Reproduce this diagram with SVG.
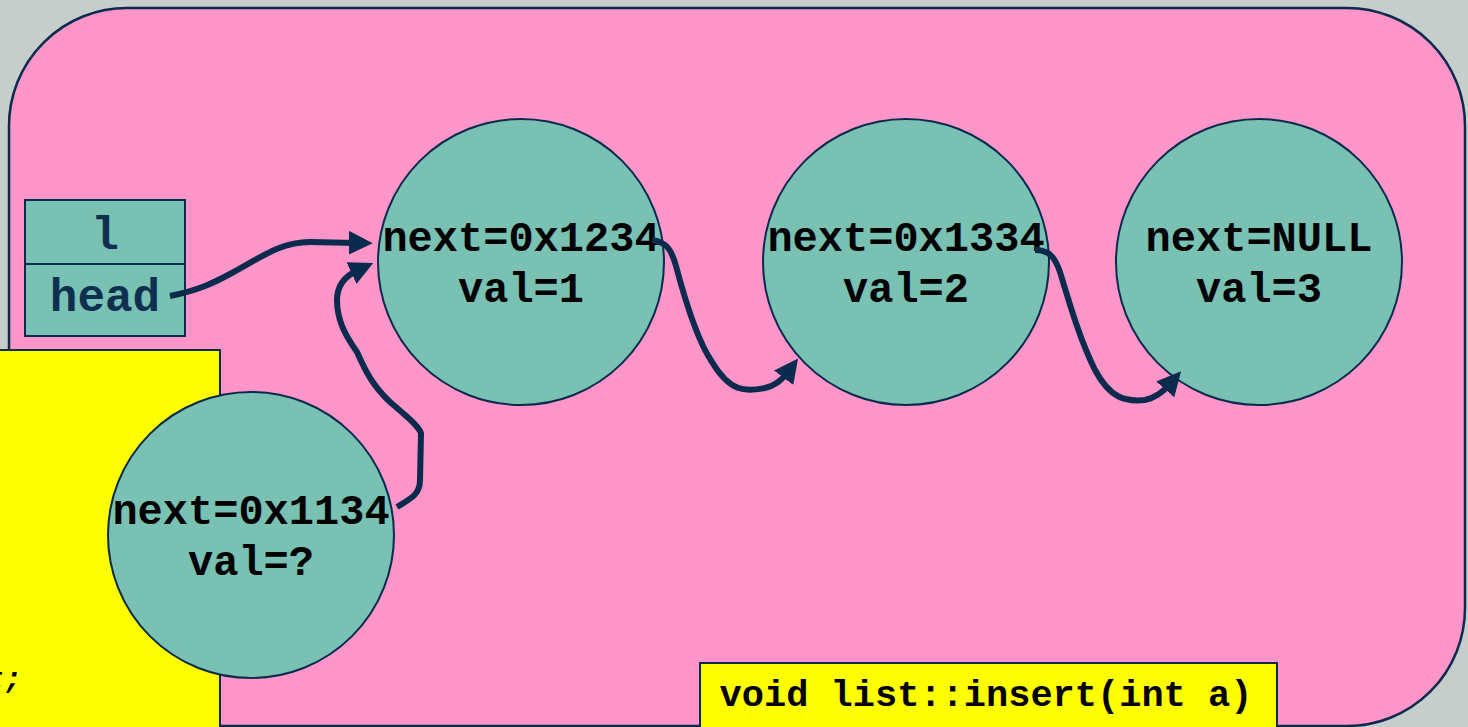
<svg xmlns="http://www.w3.org/2000/svg" width="1468" height="727" viewBox="0 0 1468 727">
<defs>
<style>
.node{fill:#78C1B3;stroke:#0A2A4E;stroke-width:2}
.t{font-family:"Liberation Mono","Courier New",monospace;font-weight:bold;fill:#000;text-anchor:middle}
.nt{font-size:42px}
.conn{fill:none;stroke:#0A2A4E;stroke-width:6;stroke-linecap:butt;stroke-linejoin:round;marker-end:url(#ah)}
.yel{fill:#FFFF00;stroke:#0A2A4E;stroke-width:2}
</style>
<marker id="ah" viewBox="0 0 10 10" refX="3" refY="5" markerWidth="4" markerHeight="4" orient="auto" markerUnits="strokeWidth">
<path d="M0,0 L10,5 L0,10 Z" fill="#0A2A4E"/>
</marker>
</defs>
<rect x="0" y="0" width="1468" height="727" fill="#C5CECA"/>
<rect id="frame" x="9" y="8" width="1456" height="718" rx="118" ry="118" fill="#FF95C8" stroke="#0A2A4E" stroke-width="2.5"/>

<g id="code-box">
<rect class="yel" x="-10" y="350" width="230" height="400"/>
<text x="22" y="688" font-family="Liberation Mono, monospace" font-style="italic" font-weight="bold" font-size="30" text-anchor="end" fill="#000">t;</text>
</g>

<g id="list-obj">
<rect x="25" y="200" width="160" height="64" fill="#78C1B3" stroke="#0A2A4E" stroke-width="2"/>
<rect x="25" y="264" width="160" height="72" fill="#78C1B3" stroke="#0A2A4E" stroke-width="2"/>
<text class="t" x="105" y="249" font-size="46" style="fill:#0F2F50">l</text>
<text class="t" x="105" y="311" font-size="46" style="fill:#0F2F50">head</text>
</g>

<g id="node1">
<circle class="node" cx="521" cy="262" r="143"/>
<text class="t nt" x="521" y="251">next=0x1234</text>
<text class="t nt" x="521" y="302">val=1</text>
</g>
<g id="node2">
<circle class="node" cx="906" cy="262" r="143"/>
<text class="t nt" x="906" y="251">next=0x1334</text>
<text class="t nt" x="906" y="302">val=2</text>
</g>
<g id="node3">
<circle class="node" cx="1259" cy="262" r="143"/>
<text class="t nt" x="1259" y="251">next=NULL</text>
<text class="t nt" x="1259" y="302">val=3</text>
</g>
<g id="node4">
<circle class="node" cx="251" cy="535" r="143"/>
<text class="t nt" x="251" y="524">next=0x1134</text>
<text class="t nt" x="251" y="575">val=?</text>
</g>

<g id="connectors">
<path class="conn" d="M170,296 C200,290 215,282 230,274 C260,258 280,242 310,242 L356,243"/>
<path class="conn" d="M397,507 C412,498 420,494 420,480 L421,433 C418,425 405,415 390,402 C372,385 365,370 357,352 C345,335 337,320 337,300 C337,285 345,276 358,270"/>
<path class="conn" d="M652,240 C668,242 672,252 676,266 C685,300 697,340 712,362 C730,392 745,392 765,388 C775,386 782,380 788,372"/>
<path class="conn" d="M1035,250 C1050,250 1055,258 1060,272 C1070,305 1080,340 1095,370 C1110,398 1125,402 1145,400 C1155,398 1163,392 1170,384"/>
</g>

<g id="signature">
<rect class="yel" x="700" y="663" width="577" height="80"/>
<text class="t" x="986" y="706" font-size="37">void list::insert(int a)</text>
</g>
</svg>
